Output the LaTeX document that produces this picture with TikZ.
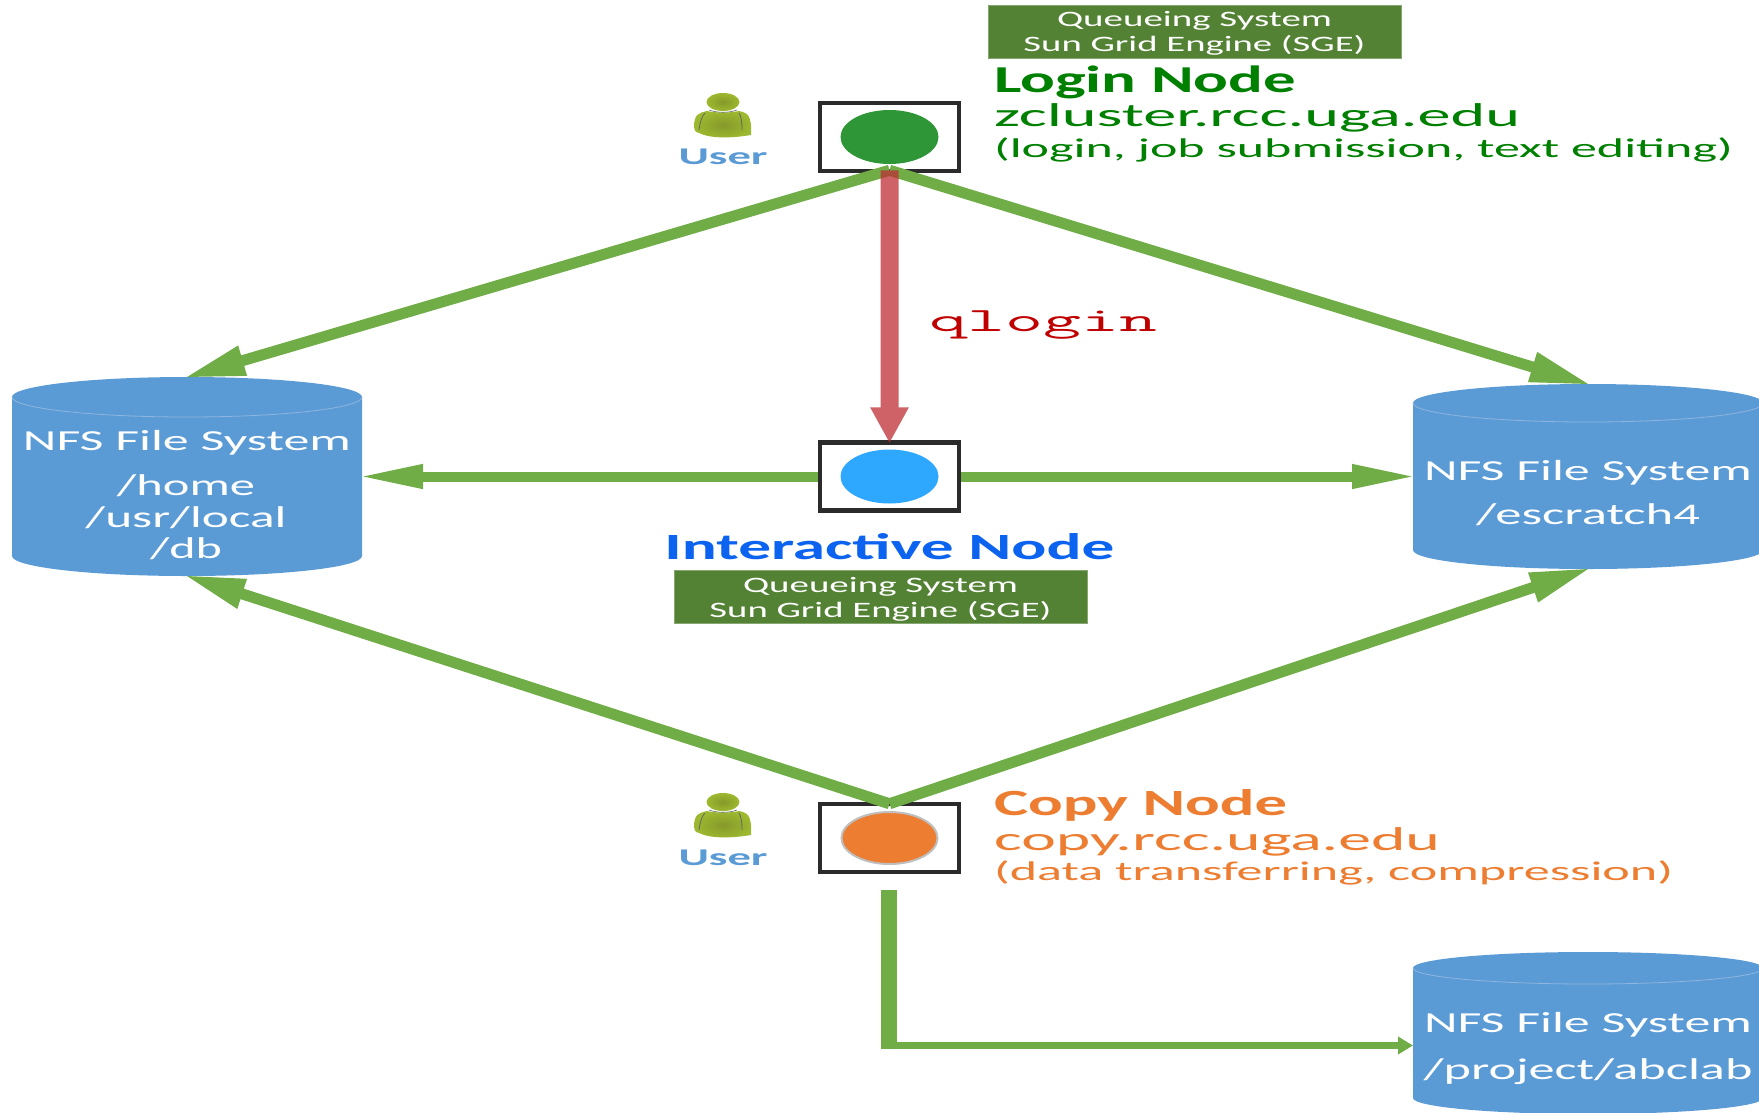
\documentclass[tikz,border=0pt]{standalone}
\usepackage{graphicx}
\usepackage{fontspec}
\setmainfont{Carlito}
\usetikzlibrary{arrows.meta,shapes.geometric,calc}
\definecolor{dbblue}{HTML}{5B9BD5}
\definecolor{dbrim}{HTML}{8DB5DE}
\definecolor{flowgreen}{HTML}{70AD47}
\definecolor{boxgreen}{HTML}{548235}
\definecolor{loginGreen}{HTML}{008000}
\definecolor{loginDotC}{HTML}{2E9636}
\definecolor{interDotC}{HTML}{2EA8FF}
\definecolor{interBlue}{HTML}{0B63F0}
\definecolor{copyOrange}{HTML}{ED7D31}
\definecolor{redflow}{HTML}{BE2E33}
\definecolor{qred}{HTML}{C00000}
\newcommand{\fitw}[3]{\resizebox{#1pt}{\height}{\fontsize{#2pt}{#2pt}\selectfont #3}}
\newcommand{\dbcyl}[6]{% name, x0, x1, ytop, ry, ybottom
  \pgfmathsetmacro{\rxx}{(#3-#2)/2}
  \fill[dbblue] (#2,#4+#5) arc[start angle=180,end angle=360,x radius=\rxx,y radius=#5]
     -- (#3,#6-#5) arc[start angle=0,end angle=180,x radius=\rxx,y radius=#5] -- cycle;
  \draw[dbrim,line width=.8pt] (#2,#4+#5) arc[start angle=180,end angle=0,x radius=\rxx,y radius=#5];
  \node[dbhit,minimum width=#3pt-#2pt,minimum height=#6pt-#4pt] (#1) at ({(#2+#3)/2},{(#4+#6)/2}) {};
}
\newcommand{\usericon}[2]{%
  \begin{scope}[shift={(#1,#2)}]
    \path[inner color=userdark,outer color=userlight]
      (-29,25) .. controls (-29,12) and (-24,11) .. (-16,9) .. controls (-8,11) and (8,11) .. (16,9)
      .. controls (24,11) and (29,12) .. (28,33) .. controls (10,36) and (-12,37) .. (-24,31) .. controls (-28,30) and (-29,28) .. (-29,25) -- cycle;
    \path[inner color=userdark,outer color=userlight] (0,0) ellipse[x radius=16.5,y radius=9];
    \draw[gray!80!black,line width=.8pt] (-24,28) .. controls (-23,20) and (-21,14) .. (-18,11);
    \draw[gray!80!black,line width=.8pt] (19,28) .. controls (19,20) and (18,14) .. (16,11);
    \draw[gray!80!black,line width=.6pt] (-14,8) .. controls (-6,11) and (6,11) .. (14,8);
  \end{scope}}
\definecolor{userdark}{HTML}{86992B}
\definecolor{userlight}{HTML}{9DB92F}
\tikzset{
  dbhit/.style={rectangle,inner sep=0pt,outer sep=0pt},
  hostbox/.style={rectangle,draw=black!83,line width=4.5pt,minimum width=139pt,minimum height=68pt,inner sep=0pt,outer sep=2.25pt},
  dot/.style={ellipse,inner sep=0pt,minimum width=98pt,minimum height=54pt},
  gbox/.style={rectangle,fill=boxgreen,draw=boxgreen!70!white,line width=.6pt,text=white,align=center,minimum width=413pt,minimum height=53pt,inner sep=0pt,text depth=0pt,font=\fontsize{22pt}{25pt}\selectfont},
  lbl/.style={inner sep=0pt,outer sep=0pt,anchor=base},
  lblw/.style={inner sep=0pt,outer sep=0pt,anchor=base west},
  dbtxt/.style={lbl,text=white},
  usertxt/.style={lbl,text=dbblue,font=\bfseries},
  bigflow/.style={draw=flowgreen,line width=11pt,shorten >=-4pt,-{Triangle[length=62pt,width=28pt,fill=flowgreen]}},
  sideflow/.style={draw=flowgreen,line width=10pt,shorten >=-5pt,-{Triangle[length=66pt,width=22pt,fill=flowgreen]}},
}
\begin{document}
\begin{tikzpicture}[x=1pt,y=-1pt]
\useasboundingbox (0,0) rectangle (1759,1112);
\clip (0,0) rectangle (1759,1112);
\fill[white] (0,0) rectangle (1759,1112);

% storage
\dbcyl{nfsA}{12}{362}{377}{20}{576}
\dbcyl{nfsB}{1413}{1763}{384}{19}{569}
\dbcyl{nfsC}{1413}{1763}{952}{16}{1114}

% hosts
\node[hostbox] (loginBox) at (889.5,137) {};
\node[hostbox] (interBox) at (889.5,476.5) {};
\node[hostbox] (copyBox) at (889.5,838) {};
\node[dot,fill=loginDotC] (loginDot) at (loginBox.center) {};
\node[dot,fill=interDotC] (interDot) at (interBox.center) {};
\node[dot,fill=copyOrange,draw=black!25,line width=2pt,minimum width=96pt,minimum height=52pt] (copyDot) at (copyBox.center) {};

% connectors
\coordinate (loginFoot) at ([yshift=3pt]loginBox.south);
\coordinate (copyHead) at ([yshift=-2pt]copyBox.north);
\draw[bigflow] (loginFoot) -- (nfsA.north);
\draw[bigflow] (loginFoot) -- (nfsB.north);
\draw[bigflow] (copyHead) -- (nfsA.south);
\draw[bigflow] (copyHead) -- (nfsB.south);
\draw[sideflow] (interBox.west) -- (nfsA.east);
\draw[sideflow] (interBox.east) -- (nfsB.west);
\begin{scope}[transparency group,opacity=.75]
\draw[draw=redflow,line width=18pt,shorten >=-3pt,-{Triangle[length=36pt,width=36pt,fill=redflow]}] (loginFoot) -- (interBox.north);
\end{scope}
\coordinate (copyOut) at (889,890);
\coordinate (elbow) at (889,1045.5);
\draw[draw=flowgreen,line width=15.5pt] (copyOut) -- ([yshift=-3.75pt]elbow);
\draw[draw=flowgreen,line width=7.5pt,-{Triangle[length=15pt,width=17pt,fill=flowgreen]}] ([xshift=-7.75pt]elbow) -- (elbow -| nfsC.west);

% login text
\node[gbox] (queueTop) at (1194.5,31.5) {\fitw{275}{22}{Queueing System}\\\fitw{342}{22}{Sun Grid Engine (SGE)}};
\node[lblw,text=loginGreen,font=\bfseries] (loginT) at (994,92) {\fitw{302}{38}{Login Node}};
\node[lblw,text=loginGreen] (loginU) at (994,126) {\fitw{526}{33}{zcluster.rcc.uga.edu}};
\node[lblw,text=loginGreen] (loginD) at (994,157) {\fitw{739}{27}{(login, job submission, text editing)}};

% interactive text
\node[lbl,text=interBlue,font=\bfseries] (interT) at (889.5,559) {\fitw{450}{37}{Interactive Node}};
\node[gbox] (queueMid) at (880.5,597) {\fitw{275}{22}{Queueing System}\\\fitw{342}{22}{Sun Grid Engine (SGE)}};

% copy text
\node[lblw,text=copyOrange,font=\bfseries] (copyT) at (994,815) {\fitw{293}{37}{Copy Node}};
\node[lblw,text=copyOrange] (copyU) at (994,850) {\fitw{446}{33}{copy.rcc.uga.edu}};
\node[lblw,text=copyOrange] (copyD) at (994,880) {\fitw{679}{27}{(data transferring, compression)}};

% qlogin
\node[lblw,text=qred] (qlogin) at (929,331) {\fitw{228}{34}{\ttfamily qlogin}};

% db text
\node[dbtxt] (a1) at (187,450) {\fitw{328}{29}{NFS File System}};
\node[dbtxt] (a2) at (186,495) {\fitw{138}{30}{/home}};
\node[dbtxt] (a3) at (186,527) {\fitw{201}{30}{/usr/local}};
\node[dbtxt] (a4) at (186,558) {\fitw{72}{30}{/db}};
\node[dbtxt] (b1) at (1588,480) {\fitw{328}{29}{NFS File System}};
\node[dbtxt] (b2) at (1588,524) {\fitw{224}{30}{/escratch4}};
\node[dbtxt] (c1) at (1588,1032) {\fitw{328}{29}{NFS File System}};
\node[dbtxt] (c2) at (1588,1079) {\fitw{329}{30}{/project/abclab}};

% users
\usericon{723}{102}
\usericon{723}{802}
\node[usertxt] (userA) at (723,164) {\fitw{89}{24}{User}};
\node[usertxt] (userB) at (723,865) {\fitw{89}{24}{User}};
\end{tikzpicture}
\end{document}
